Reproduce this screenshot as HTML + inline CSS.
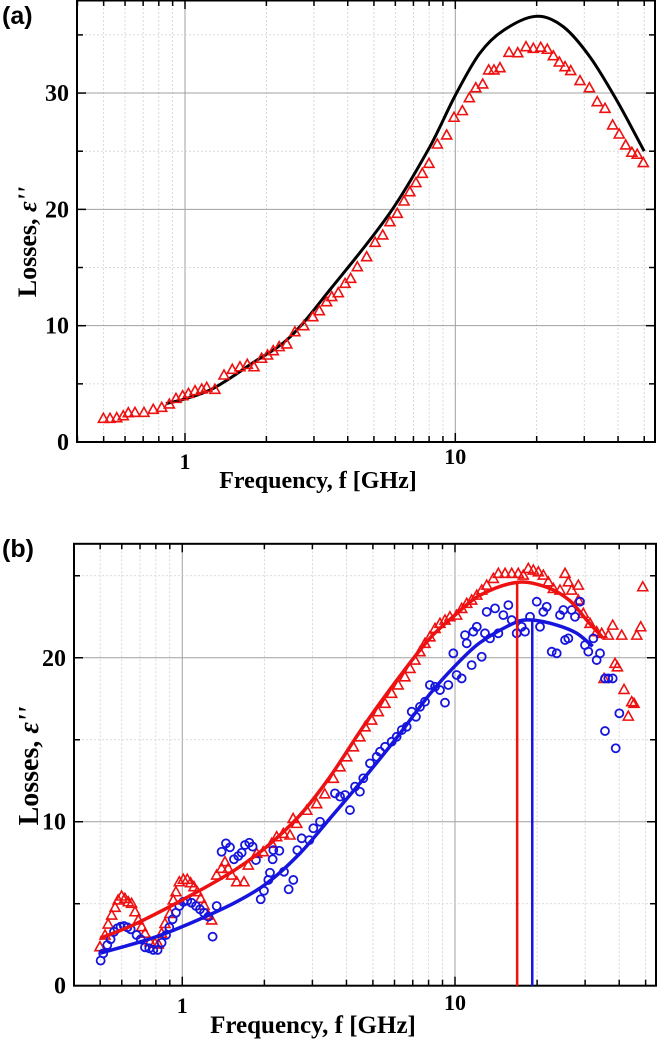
<!DOCTYPE html>
<html><head><meta charset="utf-8">
<style>
html,body{margin:0;padding:0;background:#fff;}
svg{display:block;font-family:"Liberation Serif",serif;}
</style></head>
<body>
<svg id="chart" width="657" height="1039" viewBox="0 0 657 1039" xmlns="http://www.w3.org/2000/svg"></svg>
<script>
// ---------- Panel (a) data ----------
const aFitFreq = [0.85,1,1.27,1.78,2.44,3.44,5.73,8.06,10,12.3,15.1,20,25.1,31.5,39.5,50];
const aFitVal  = [3.3,3.7,4.6,6.8,9.0,13.1,19.7,25.4,29.8,33.4,35.4,36.6,35.7,33.1,29.4,25.0];
const aMeasFreq = [0.499,0.528,0.559,0.591,0.617,0.653,0.705,0.763,0.82,0.875,0.926,0.98,1.03,1.089,1.153,1.203,1.29,1.394,1.496,1.597,1.70,1.80,1.92,2.02,2.12,2.23,2.38,2.55,2.75,2.97,3.14,3.34,3.49,3.69,3.91,4.10,4.34,4.70,5.05,5.39,5.73,6.10,6.46,6.79,7.15,7.55,7.99,8.58,9.29,9.89,10.62,11.27,11.9,12.63,13.29,13.9,14.63,15.8,17.02,18.26,19.44,20.7,21.89,23.05,24.26,25.47,26.73,28.93,31.33,33.5,35.8,38.2,40.4,42.7,45.0,47.1,49.6];
const aMeasVal  = [2.04,2.04,2.09,2.26,2.52,2.55,2.55,2.81,2.98,3.27,3.75,3.98,4.18,4.41,4.56,4.70,4.53,5.76,6.25,6.47,6.68,6.47,7.20,7.48,7.85,8.20,8.43,9.48,10.0,10.77,11.29,12.06,12.5,12.84,13.64,14.07,15.07,15.93,17.17,17.8,18.94,19.66,20.72,21.52,22.3,23.1,23.96,25.62,26.4,27.92,28.49,29.6,30.46,30.78,31.99,31.99,32.18,33.5,33.47,33.99,33.85,33.94,33.77,33.21,32.67,32.27,31.93,31.07,30.46,29.26,28.69,27.26,26.48,25.54,24.91,24.74,24.02];
const aYTicks = [0,10,20,30];
const aYTickLabels = ["0","10","20","30"];
// ---------- Panel (b) data ----------
const bRedFitFreq = [0.5,0.66,1,1.54,2.04,2.70,3.48,4.61,6.1,8.1,10,12.3,16.9,21.7,26.3,30.4,34.9];
const bRedFitVal  = [2.89,3.70,5.23,7.0,8.48,10.4,12.74,15.8,18.6,21.2,22.6,23.8,24.6,24.3,23.5,22.3,21.2];
const bBlueFitFreq = [0.5,0.76,1,1.54,2.04,2.70,3.48,4.61,6.1,8.1,10,12.3,16.9,19.2,23.5,27.9,32];
const bBlueFitVal  = [1.98,2.85,3.60,5.02,6.24,8.07,10.2,12.6,15.1,17.8,19.5,20.9,22.2,22.3,22.0,21.5,20.7];
const bRedFreq = [0.499,0.521,0.535,0.551,0.567,0.582,0.599,0.616,0.634,0.652,0.671,0.690,0.710,0.730,0.761,0.794,0.817,0.840,0.864,0.901,0.927,0.948,0.975,1.009,1.043,1.073,1.104,1.135,1.168,1.201,1.245,1.282,1.337,1.394,1.434,1.474,1.517,1.583,1.684,1.746,1.874,1.98,2.127,2.219,2.346,2.483,2.55,2.628,2.86,3.11,3.33,3.58,3.79,4.01,4.24,4.48,4.68,4.95,5.23,5.54,5.86,6.19,6.55,6.84,7.13,7.44,7.76,8.09,8.45,8.81,9.19,9.58,10.14,10.58,11.04,11.51,12.02,12.53,13.07,13.82,14.42,15.26,16.14,17.06,17.8,18.57,19.37,20.21,21.08,21.98,22.94,24.27,25.32,26.04,26.79,28.33,28.33,29.54,31.27,33.07,34.51,36.5,37.87,40.87,46.4,47.97,48.8,38.6,39.4,35.2,41.67,44.46,45.34,43.2];
const bRedVal  = [2.38,3.09,3.76,4.31,4.78,5.23,5.47,5.33,5.12,5.02,4.51,4.01,3.60,3.20,2.68,2.59,2.54,3.20,3.80,4.41,5.23,5.73,6.34,6.49,6.49,6.28,6.04,5.73,5.33,4.92,4.31,4.01,6.75,7.16,7.56,7.16,6.75,6.34,6.34,7.36,8.07,8.17,8.68,9.09,9.29,9.19,10.2,9.90,10.7,11.1,11.7,12.65,13.35,13.96,14.57,15.18,15.79,16.2,16.71,17.22,17.83,18.34,18.84,19.35,19.86,20.37,20.88,21.28,21.79,22.1,22.3,22.5,22.6,23.01,23.32,23.52,23.82,24.13,24.43,24.84,25.15,25.15,25.15,25.15,25.04,25.45,25.35,25.24,25.04,24.63,24.23,24.13,25.15,24.63,24.13,24.43,23.52,22.71,22.1,21.59,21.49,21.38,21.99,21.38,21.38,21.89,24.33,19.66,19.45,18.74,18.07,17.32,17.22,16.44];
const bBlueFreq = [0.502,0.513,0.531,0.546,0.562,0.578,0.594,0.611,0.629,0.647,0.680,0.704,0.730,0.757,0.783,0.812,0.840,0.872,0.896,0.922,0.948,0.975,1.009,1.043,1.082,1.123,1.161,1.201,1.246,1.292,1.337,1.394,1.446,1.496,1.547,1.605,1.651,1.698,1.761,1.811,1.863,1.939,1.993,2.068,2.097,2.145,2.157,2.269,2.360,2.455,2.554,2.641,2.740,2.923,3.024,3.199,3.63,3.79,3.95,4.12,4.30,4.48,4.61,4.88,5.16,5.31,5.54,5.86,6.11,6.38,6.65,6.94,7.19,7.44,7.76,8.09,8.45,8.81,9.19,9.45,9.86,10.14,10.58,10.88,11.04,11.51,11.67,12.02,12.53,12.88,13.07,13.44,14.02,14.42,15.04,15.69,16.14,16.83,17.56,18.06,18.84,19.94,20.5,21.08,21.69,22.63,23.6,24.27,24.96,25.32,26.04,26.79,27.54,28.73,29.97,30.82,32.15,33.07,34.02,35.48,36.5,37.87,40.05,35.48,38.84];
const bBlueVal  = [1.53,1.97,2.48,2.83,3.29,3.50,3.60,3.64,3.56,3.44,3.09,2.83,2.34,2.28,2.18,2.18,2.62,3.09,3.56,4.05,4.45,4.86,5.12,5.18,5.06,4.86,4.66,4.45,4.21,2.99,4.86,8.17,8.68,8.44,7.71,7.91,8.11,8.58,8.72,8.48,7.66,5.27,5.79,6.45,6.89,7.71,8.27,8.23,6.95,5.88,6.45,8.27,8.99,8.88,9.60,10.0,11.73,11.53,11.63,10.71,12.14,11.83,12.65,13.56,13.96,14.27,14.57,14.88,15.18,15.59,15.79,16.71,16.4,17.01,17.32,18.34,18.23,18.03,17.26,18.34,20.27,18.95,18.74,21.38,20.88,19.55,21.59,21.89,20.06,21.49,22.8,21.18,23.01,21.49,22.6,23.21,22.3,21.49,21.89,21.59,22.5,23.42,21.89,22.8,23.11,20.37,20.27,22.6,22.91,21.08,21.18,22.91,22.5,23.42,20.77,20.37,21.18,19.86,20.27,18.74,18.74,18.74,16.61,15.53,14.48];
const bPeakFreq = [16.9,19.2];
const bPeakVal  = [24.6,22.3];
const bYTicks = [0,10,20];
const bYTickLabels = ["0","10","20"];
const xTickVals = [1,10];
const xTickLabels = ["1","10"];

const NS="http://www.w3.org/2000/svg";
const svg=document.getElementById('chart');
function mk(tag,attrs,parent){const e=document.createElementNS(NS,tag);for(const k in attrs)e.setAttribute(k,attrs[k]);(parent||svg).appendChild(e);return e;}

function makeAxes(p){
  p.x=f=>p.L+(Math.log10(f)-p.lx0)/(p.lx1-p.lx0)*(p.R-p.L);
  p.y=v=>p.B-(v/p.ymax)*(p.B-p.T);
  return p;
}
const A=makeAxes({L:77,R:655,T:0,B:442,lx0:-0.3996,lx1:1.7388,ymax:38.0});
const Bp=makeAxes({L:74,R:656,T:543.3,B:985.7,lx0:-0.397,lx1:1.737,ymax:26.98});

// smooth function-style curve (cubic Hermite with x-based tangents)
function smoothPath(xs,ys){
  const n=xs.length, m=[];
  for(let i=0;i<n;i++){
    if(i===0) m.push((ys[1]-ys[0])/(xs[1]-xs[0]));
    else if(i===n-1) m.push((ys[n-1]-ys[n-2])/(xs[n-1]-xs[n-2]));
    else m.push((ys[i+1]-ys[i-1])/(xs[i+1]-xs[i-1]));
  }
  let d=`M${xs[0]},${ys[0]}`;
  for(let i=0;i<n-1;i++){
    const h=xs[i+1]-xs[i];
    d+=` C${xs[i]+h/3},${ys[i]+m[i]*h/3} ${xs[i+1]-h/3},${ys[i+1]-m[i+1]*h/3} ${xs[i+1]},${ys[i+1]}`;
  }
  return d;
}

function drawFrame(p,g,yTicks,yLabels,yMinorStep){
  const minors=[];
  for(let dec=-1;dec<=1;dec++)for(let m=1;m<10;m++){const f=m*Math.pow(10,dec);const lf=Math.log10(f);if(lf>p.lx0&&lf<p.lx1)minors.push(f);}
  minors.forEach(f=>{
    const major=(Math.abs(Math.log10(f)-Math.round(Math.log10(f)))<1e-9);
    const gl=mk('line',{x1:p.x(f),x2:p.x(f),y1:p.T,y2:p.B,stroke:major?'#a0a0a0':'#d0d0d0','stroke-width':major?1:0.8,'stroke-dasharray':major?'':'2,2'},g);
    
    
    const tk=mk('line',{x1:p.x(f),x2:p.x(f),y1:p.B,y2:p.B-(major?9:6),stroke:'#000','stroke-width':1.5},g);
    
    
    const tk2=mk('line',{x1:p.x(f),x2:p.x(f),y1:p.T,y2:p.T+(major?9:6),stroke:'#000','stroke-width':1.5},g);
    
    
  });
  for(let v=yMinorStep;v<p.ymax;v+=yMinorStep){
    const major=(v%10===0);
    const gl=mk('line',{x1:p.L,x2:p.R,y1:p.y(v),y2:p.y(v),stroke:major?'#a0a0a0':'#d0d0d0','stroke-width':major?1:0.8,'stroke-dasharray':major?'':'2,2'},g);
    
    
    const t1=mk('line',{x1:p.L,x2:p.L+(major?9:6),y1:p.y(v),y2:p.y(v),stroke:'#000','stroke-width':1.5},g);
    
    
    const t2=mk('line',{x1:p.R,x2:p.R-(major?9:6),y1:p.y(v),y2:p.y(v),stroke:'#000','stroke-width':1.5},g);
    
    
  }
  yTicks.forEach((v,i)=>{
    const t=mk('text',{x:p.L-8,y:p.y(v)+8,'text-anchor':'end','font-size':24,'font-weight':'bold'},g);
    t.textContent=yLabels[i];
    
    
  });
  const fr=mk('rect',{x:p.L,y:p.T+0.5,width:p.R-p.L,height:p.B-p.T-0.5,fill:'none',stroke:'#000','stroke-width':2},g);
  
  
}

function triangle(g,x,y,color,name){
  const s=5;
  const t=mk('polygon',{points:`${x},${y-s} ${x-s},${y+s*0.8} ${x+s},${y+s*0.8}`,fill:'none',stroke:color,'stroke-width':1.6},g);
  
  
}
function circle(g,x,y,color,name){
  const c=mk('circle',{cx:x,cy:y,r:4,fill:'none',stroke:color,'stroke-width':1.8},g);
  
  
}

// ----- Panel A -----
const gA=mk('g',{});


drawFrame(A,gA,aYTicks,aYTickLabels,5);
const fitA=mk('path',{d:smoothPath(aFitFreq.map(A.x),aFitVal.map(A.y)),fill:'none',stroke:'#000','stroke-width':3},gA);


aMeasFreq.forEach((f,i)=>triangle(gA,A.x(f),A.y(aMeasVal[i]),'#ee1111','measured-point-red'));

// ----- Panel B -----
const gB=mk('g',{});


drawFrame(Bp,gB,bYTicks,bYTickLabels,5);
bRedFreq.forEach((f,i)=>triangle(gB,Bp.x(f),Bp.y(bRedVal[i]),'#ee1111','red-point'));
bBlueFreq.forEach((f,i)=>circle(gB,Bp.x(f),Bp.y(bBlueVal[i]),'#1515dd','blue-point'));
const rf=mk('path',{d:smoothPath(bRedFitFreq.map(Bp.x),bRedFitVal.map(Bp.y)),fill:'none',stroke:'#ee1111','stroke-width':3.5},gB);


const bf=mk('path',{d:smoothPath(bBlueFitFreq.map(Bp.x),bBlueFitVal.map(Bp.y)),fill:'none',stroke:'#1515dd','stroke-width':3.5},gB);


const peakColors=['#ee1111','#1515dd'];
bPeakFreq.forEach((f,i)=>{
  const l=mk('line',{x1:Bp.x(f),x2:Bp.x(f),y1:Bp.B,y2:Bp.y(bPeakVal[i]),stroke:peakColors[i],'stroke-width':2.5},gB);
  
  
});

// x tick labels
[[A,[469,466]],[Bp,[1013,1012]]].forEach(([p,ys])=>{
  xTickVals.forEach((v,i)=>{
    const t=mk('text',{x:p.x(v),y:ys[i]-(i===1?2:0),'text-anchor':'middle','font-size':22,'font-weight':'bold'});
    t.textContent=xTickLabels[i];
    
    
  });
});

function addText(txt,attrs,name){const t=document.createElementNS(NS,'text');for(const k in attrs)t.setAttribute(k,attrs[k]);t.textContent=txt;


svg.appendChild(t);return t;}
addText('(a)',{x:2,y:24,'font-size':25,'font-weight':'bold','font-family':'Liberation Sans, sans-serif'},'panel-label-a');
addText('(b)',{x:2,y:557,'font-size':25,'font-weight':'bold','font-family':'Liberation Sans, sans-serif'},'panel-label-b');
addText('Frequency, f [GHz]',{x:318,y:488,'text-anchor':'middle','font-size':24,'font-weight':'bold'},'x-axis-title-a');
addText('Frequency, f [GHz]',{x:313,y:1033,'text-anchor':'middle','font-size':25,'font-weight':'bold'},'x-axis-title-b');
const ya=addText('',{transform:'translate(36,242) rotate(-90)','text-anchor':'middle','font-size':26,'font-weight':'bold'},'y-axis-title-a');
ya.innerHTML='Losses, <tspan font-style="italic">ε\'\'</tspan>';
const yb=addText('',{transform:'translate(38,766) rotate(-90)','text-anchor':'middle','font-size':28,'font-weight':'bold'},'y-axis-title-b');
yb.innerHTML='Losses, <tspan font-style="italic">ε\'\'</tspan>';
</script>
</body></html>
